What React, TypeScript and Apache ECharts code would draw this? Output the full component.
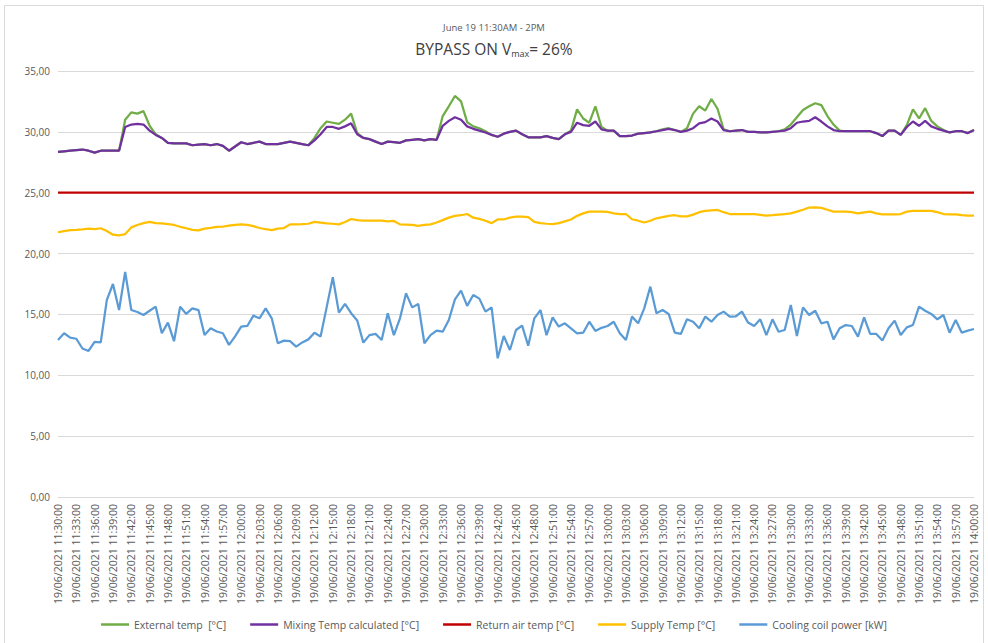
import React, { useEffect, useRef } from "react";
import * as echarts from "echarts";

// minutes 11:30 .. 14:00 (151 points)
const startMinute = 11 * 60 + 30;
const pointCount = 151;
const categories: string[] = [];
for (let k = 0; k < pointCount; k++) {
  const m = startMinute + k;
  const hh = String(Math.floor(m / 60)).padStart(2, "0");
  const mm = String(m % 60).padStart(2, "0");
  categories.push(`19/06/2021 ${hh}:${mm}:00`);
}

const yTicks = [0, 5, 10, 15, 20, 25, 30, 35];

const mixingTemp = [
  28.35, 28.4, 28.45, 28.5, 28.55, 28.45, 28.3, 28.45, 28.45, 28.45,
  28.45, 30.4, 30.6, 30.65, 30.6, 30.1, 29.75, 29.5, 29.1, 29.05,
  29.05, 29.05, 28.9, 28.95, 29.0, 28.9, 29.0, 28.85, 28.45, 28.8,
  29.15, 29.0, 29.1, 29.2, 29.0, 29.0, 29.0, 29.1, 29.2, 29.1,
  29.0, 28.9, 29.3, 29.8, 30.4, 30.4, 30.25, 30.45, 30.7, 29.8,
  29.5, 29.4, 29.2, 29.0, 29.2, 29.15, 29.1, 29.3, 29.35, 29.4,
  29.3, 29.4, 29.35, 30.5, 30.9, 31.2, 31.0, 30.45, 30.25, 30.1,
  29.95, 29.75, 29.6, 29.85, 30.0, 30.1, 29.8, 29.55, 29.55, 29.55,
  29.65, 29.5, 29.4, 29.8, 30.0, 30.75, 30.55, 30.5, 30.85, 30.2,
  30.1, 30.1, 29.65, 29.65, 29.7, 29.85, 29.9, 29.95, 30.05, 30.15,
  30.25, 30.15, 30.0, 30.1, 30.3, 30.7, 30.8, 31.1, 30.85, 30.15,
  30.05, 30.1, 30.15, 30.0, 30.0, 29.95, 29.95, 30.0, 30.05, 30.1,
  30.3, 30.75, 30.85, 30.9, 31.2, 30.85, 30.45, 30.15, 30.05, 30.05,
  30.05, 30.05, 30.05, 30.05, 29.9, 29.65, 30.1, 30.1, 29.75, 30.4,
  30.85, 30.5, 30.9, 30.45, 30.25, 30.1, 29.95, 30.05, 30.05, 29.9,
  30.15,
];

const externalTemp = [
  28.35, 28.4, 28.45, 28.5, 28.55, 28.45, 28.3, 28.45, 28.45, 28.45,
  28.45, 31.0, 31.6, 31.5, 31.7, 30.5, 29.8, 29.5, 29.1, 29.05,
  29.05, 29.05, 28.9, 28.95, 29.0, 28.9, 29.0, 28.85, 28.45, 28.8,
  29.15, 29.0, 29.1, 29.2, 29.0, 29.0, 29.0, 29.1, 29.2, 29.1,
  29.0, 28.9, 29.5, 30.3, 30.85, 30.75, 30.65, 31.0, 31.5, 29.9,
  29.5, 29.4, 29.2, 29.0, 29.2, 29.15, 29.1, 29.3, 29.35, 29.4,
  29.3, 29.4, 29.35, 31.3, 32.1, 32.95, 32.5, 30.8, 30.45, 30.3,
  30.05, 29.75, 29.6, 29.85, 30.0, 30.1, 29.8, 29.55, 29.55, 29.55,
  29.65, 29.5, 29.4, 29.8, 30.1, 31.85, 31.1, 30.75, 32.1, 30.4,
  30.1, 30.1, 29.65, 29.65, 29.7, 29.85, 29.9, 29.95, 30.05, 30.2,
  30.3, 30.15, 30.0, 30.3, 31.5, 32.1, 31.75, 32.7, 31.9, 30.2,
  30.05, 30.1, 30.15, 30.0, 30.0, 29.95, 29.95, 30.0, 30.05, 30.2,
  30.6, 31.2, 31.8, 32.1, 32.35, 32.2, 31.3, 30.6, 30.1, 30.05,
  30.05, 30.05, 30.05, 30.05, 29.9, 29.65, 30.1, 30.1, 29.75, 30.55,
  31.85, 31.1, 31.95, 30.9, 30.45, 30.15, 29.95, 30.05, 30.05, 29.9,
  30.15,
];

const returnAirTemp = [
  25, 25, 25, 25, 25, 25, 25, 25, 25, 25, 25, 25, 25, 25, 25, 25, 25, 25, 25, 25,
  25, 25, 25, 25, 25, 25, 25, 25, 25, 25, 25, 25, 25, 25, 25, 25, 25, 25, 25, 25,
  25, 25, 25, 25, 25, 25, 25, 25, 25, 25, 25, 25, 25, 25, 25, 25, 25, 25, 25, 25,
  25, 25, 25, 25, 25, 25, 25, 25, 25, 25, 25, 25, 25, 25, 25, 25, 25, 25, 25, 25,
  25, 25, 25, 25, 25, 25, 25, 25, 25, 25, 25, 25, 25, 25, 25, 25, 25, 25, 25, 25,
  25, 25, 25, 25, 25, 25, 25, 25, 25, 25, 25, 25, 25, 25, 25, 25, 25, 25, 25, 25,
  25, 25, 25, 25, 25, 25, 25, 25, 25, 25, 25, 25, 25, 25, 25, 25, 25, 25, 25, 25,
  25, 25, 25, 25, 25, 25, 25, 25, 25, 25, 25,
];

const supplyTemp = [
  21.75, 21.85, 21.92, 21.94, 21.98, 22.05, 22.0, 22.08, 21.85, 21.55,
  21.5, 21.6, 22.15, 22.35, 22.5, 22.6, 22.5, 22.48, 22.42, 22.35,
  22.2, 22.08, 21.95, 21.9, 22.05, 22.12, 22.2, 22.22, 22.3, 22.35,
  22.4, 22.35, 22.25, 22.1, 22.0, 21.92, 22.05, 22.1, 22.4, 22.4,
  22.42, 22.45, 22.6, 22.55, 22.48, 22.45, 22.4, 22.6, 22.84, 22.75,
  22.7, 22.7, 22.7, 22.7, 22.65, 22.68, 22.4, 22.38, 22.35, 22.27,
  22.35, 22.4, 22.55, 22.75, 22.95, 23.1, 23.15, 23.25, 22.95, 22.85,
  22.7, 22.5, 22.8, 22.8, 22.95, 23.03, 23.03, 23.0, 22.6, 22.5,
  22.45, 22.42, 22.5, 22.65, 22.8, 23.1, 23.3, 23.44, 23.45, 23.45,
  23.42, 23.3, 23.25, 23.25, 22.82, 22.7, 22.55, 22.7, 22.9, 23.0,
  23.1, 23.15, 23.05, 23.05, 23.2, 23.4, 23.5, 23.55, 23.58, 23.4,
  23.25, 23.25, 23.25, 23.25, 23.25, 23.18, 23.11, 23.15, 23.2, 23.25,
  23.3, 23.45, 23.6, 23.78, 23.8, 23.75, 23.6, 23.45, 23.44, 23.44,
  23.4, 23.3, 23.38, 23.44, 23.3, 23.22, 23.22, 23.22, 23.25, 23.45,
  23.5, 23.5, 23.5, 23.5, 23.4, 23.25, 23.22, 23.22, 23.15, 23.11,
  23.11,
];

const coolingPower = [
  12.9, 13.45, 13.1, 13.0, 12.2, 12.0, 12.75, 12.7, 16.2, 17.5,
  15.36, 18.5, 15.36, 15.2, 14.95, 15.3, 15.64, 13.45, 14.33, 12.8,
  15.64, 15.04, 15.5, 15.36, 13.31, 13.86, 13.6, 13.45, 12.5, 13.2,
  14.0, 14.05, 14.9, 14.68, 15.5, 14.68, 12.63, 12.85, 12.8, 12.35,
  12.7, 12.95, 13.5, 13.18, 15.6, 18.05, 15.15, 15.86, 15.1, 14.5,
  12.68, 13.3, 13.4, 12.9, 15.1, 13.3, 14.68, 16.73, 15.58, 15.86,
  12.63, 13.3, 13.67, 13.58, 14.54, 16.24, 16.95, 15.7, 16.6, 16.3,
  15.23, 15.58, 11.4, 13.23, 12.08, 13.72, 14.08, 12.43, 14.68, 15.36,
  13.3, 14.76, 14.0, 14.27, 13.86, 13.45, 13.5, 14.4, 13.64, 13.9,
  14.05, 14.4, 13.45, 12.9, 14.82, 14.27, 15.5, 17.28, 15.1, 15.36,
  15.04, 13.5, 13.4, 14.6, 14.4, 13.86, 14.82, 14.4, 14.95, 15.23,
  14.82, 14.85, 15.23, 14.33, 14.05, 14.6, 13.3, 14.6, 13.58, 13.72,
  15.78, 13.23, 15.58, 14.95, 15.3, 14.27, 14.4, 12.95, 13.86, 14.13,
  14.05, 13.18, 14.76, 13.4, 13.4, 12.85, 13.86, 14.49, 13.31, 13.94,
  14.13, 15.64, 15.3, 15.04, 14.6, 14.95, 13.5, 14.54, 13.5, 13.67,
  13.8,
];

const seriesNames = [
  "External temp  [°C]",
  "Mixing Temp calculated [°C]",
  "Return air temp [°C]",
  "Supply Temp [°C]",
  "Cooling coil power [kW]",
];
const seriesColors = ["#70AD47", "#7030A0", "#C00000", "#FFC000", "#5B9BD5"];
const seriesData = [externalTemp, mixingTemp, returnAirTemp, supplyTemp, coolingPower];

const FONT = "'Open Sans', 'Noto Sans', sans-serif";

export default function App() {
  const ref = useRef<HTMLDivElement>(null);
  useEffect(() => {
    if (!ref.current) return;
    const chart = echarts.init(ref.current, undefined, { renderer: "svg" });
    chart.setOption({
      animation: false,
      backgroundColor: "#ffffff",
      textStyle: { fontFamily: FONT },
      title: [
        {
          text: "June 19 11:30AM - 2PM",
          left: "center",
          top: 17,
          textStyle: { fontSize: 9.5, fontWeight: "normal", color: "#595959", fontFamily: FONT },
        },
        {
          text: "{a|BYPASS ON V}{b|max}{a|= 26%}",
          left: "center",
          top: 33,
          textStyle: {
            fontFamily: FONT,
            fontWeight: "normal",
            rich: {
              a: { fontSize: 15.5, color: "#404040", fontFamily: FONT, fontWeight: "normal", lineHeight: 22 },
              b: { fontSize: 9, color: "#404040", fontFamily: FONT, fontWeight: "normal", padding: [9, 0, 0, 0], lineHeight: 22 },
            },
          },
        },
      ],
      graphic: [
        {
          type: "rect",
          shape: { x: 4.5, y: 5.5, width: 979, height: 660 },
          style: { fill: "none", stroke: "#d9d9d9", lineWidth: 1 },
          silent: true,
        },
      ],
      legend: {
        bottom: 8,
        left: "center",
        icon: "rect",
        itemWidth: 28,
        itemHeight: 2.5,
        itemGap: 24,
        textStyle: { fontSize: 10.5, color: "#595959", fontFamily: FONT },
        data: seriesNames,
      },
      grid: { left: 58, right: 14, top: 71, bottom: 146, containLabel: false },
      xAxis: {
        type: "category",
        data: categories,
        boundaryGap: false,
        axisLine: { show: true, lineStyle: { color: "#d9d9d9" } },
        axisTick: { show: false },
        axisLabel: {
          interval: 2,
          rotate: 90,
          fontSize: 10.5,
          color: "#595959",
          fontFamily: FONT,
          margin: 7,
        },
      },
      yAxis: {
        type: "value",
        min: yTicks[0],
        max: yTicks[yTicks.length - 1],
        interval: 5,
        axisLine: { show: false },
        axisTick: { show: false },
        splitLine: { lineStyle: { color: "#d9d9d9", width: 1 } },
        axisLabel: {
          fontSize: 10,
          color: "#595959",
          fontFamily: FONT,
          margin: 8,
          formatter: (v: number) => v.toFixed(2).replace(".", ","),
        },
      },
      series: seriesNames.map((name, k) => ({
        name,
        type: "line",
        data: seriesData[k],
        showSymbol: false,
        symbol: "none",
        lineStyle: { color: seriesColors[k], width: 2.25 },
        itemStyle: { color: seriesColors[k] },
        z: k === 1 ? 3 : 2,
      })),
    });
    return () => chart.dispose();
  }, []);
  return (
    <div
      ref={ref}
      style={{ position: "fixed", left: 0, top: 0, width: 988, height: 643 }}
    />
  );
}
